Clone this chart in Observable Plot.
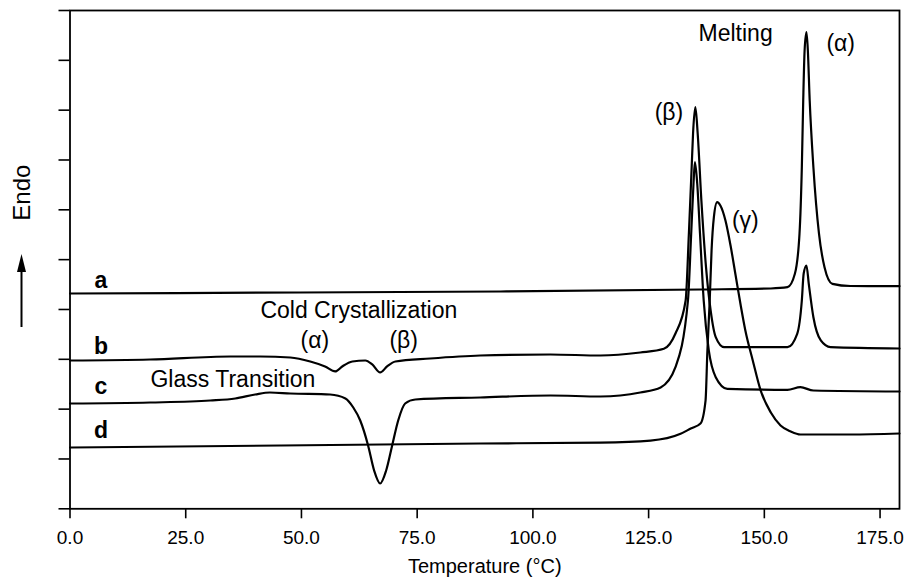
<!DOCTYPE html>
<html><head><meta charset="utf-8">
<script src="https://cdn.jsdelivr.net/npm/d3@7"></script>
<script src="https://cdn.jsdelivr.net/npm/@observablehq/plot@0.6"></script>
<style>body{margin:0;background:#fff} svg{display:block}</style>
</head><body><div id="chart"></div>
<script>
// Curve a
const aT = [0, 49.7, 93.0, 136.2, 151.4, 155.0, 156.6, 157.6, 158.1, 158.4, 158.7, 159.1, 159.4, 159.8, 160.6, 161.8, 163.0, 164.7, 168.6, 179.2];
const aV = [4.321, 4.341, 4.361, 4.401, 4.421, 4.447, 4.716, 5.525, 6.855, 8.194, 9.197, 9.565, 9.197, 8.194, 6.855, 5.525, 4.849, 4.515, 4.471, 4.467];
// Curve b
const bT = [0, 17.3, 34.6, 41.1, 47.6, 51.9, 55.1, 57.3, 58.8, 61.0, 63.8, 65.3, 67.0, 68.5, 70.3, 77.8, 88.6, 103.8, 114.6, 123.2, 128.3, 130.8, 133.0, 133.7, 134.3, 134.6, 135.1, 135.6, 136.4, 137.4, 138.4, 139.5, 141.3, 155.0, 157.1, 158.1, 158.5, 159.1, 159.6, 160.6, 162.2, 164.3, 179.2];
const bV = [2.976, 2.996, 3.056, 3.056, 3.036, 2.956, 2.856, 2.756, 2.856, 2.956, 2.976, 2.896, 2.736, 2.856, 2.956, 3.016, 3.076, 3.097, 3.076, 3.137, 3.211, 3.518, 4.180, 5.525, 6.849, 7.532, 8.060, 7.532, 6.187, 4.849, 3.980, 3.444, 3.243, 3.243, 3.512, 4.180, 4.722, 4.883, 4.515, 3.845, 3.378, 3.243, 3.217];
// Curve c
const cT = [0, 17.3, 30.3, 35.7, 40.0, 43.2, 47.6, 56.2, 59.5, 61.2, 62.7, 64.4, 65.7, 67.0, 68.3, 69.6, 70.9, 72.4, 74.6, 88.6, 103.8, 114.6, 123.2, 127.6, 130.8, 133.5, 134.2, 134.7, 135.0, 135.5, 136.1, 136.9, 138.0, 139.5, 142.0, 155.0, 157.8, 160.6, 179.2];
const cV = [2.113, 2.133, 2.173, 2.214, 2.294, 2.334, 2.314, 2.294, 2.214, 2.033, 1.772, 1.271, 0.769, 0.508, 0.769, 1.271, 1.772, 2.113, 2.194, 2.234, 2.274, 2.254, 2.334, 2.435, 2.842, 4.180, 5.525, 6.528, 6.956, 6.528, 5.525, 4.180, 3.178, 2.641, 2.408, 2.388, 2.440, 2.374, 2.354];
// Curve d
const dT = [0, 45.4, 88.6, 114.6, 125.4, 131.9, 134.1, 136.2, 137.3, 137.7, 138.2, 138.6, 139.1, 139.8, 140.5, 141.6, 142.7, 143.8, 144.9, 145.9, 147.5, 149.2, 151.4, 153.5, 155.7, 157.8, 168.6, 179.2];
const dV = [1.230, 1.270, 1.310, 1.330, 1.370, 1.505, 1.611, 1.712, 2.173, 3.177, 4.180, 5.184, 5.852, 6.153, 6.087, 5.786, 5.284, 4.682, 4.080, 3.579, 2.977, 2.375, 1.932, 1.672, 1.551, 1.491, 1.491, 1.511];

const xTicks = [0, 25, 50, 75, 100, 125, 150, 175];
const yTicks = [0, 1, 2, 3, 4, 5, 6, 7, 8, 9, 10];

const curveNames = ["a", "b", "c", "d"];
const labelT = [6.7, 6.7, 6.7, 6.7];
const labelV = [4.58, 3.26, 2.46, 1.56];

const annoText = ["Cold Crystallization", "(α)", "(β)", "Glass Transition", "Melting", "(α)", "(β)", "(γ)"];
const annoT = [62.4, 52.9, 72.1, 35.2, 143.8, 166.5, 129.4, 145.9];
const annoV = [3.98, 3.38, 3.38, 2.60, 9.53, 9.33, 7.96, 5.79];

const series = [[aT, aV], [bT, bV], [cT, cV], [dT, dV]];
const rows = [];
series.forEach(([T, V], i) => T.forEach((t, j) => rows.push({T: t, v: V[j], s: curveNames[i]})));
const labels = curveNames.map((n, i) => ({n, T: labelT[i], v: labelV[i]}));
const annos = annoText.map((t, i) => ({t, T: annoT[i], v: annoV[i]}));

const font = "'Liberation Sans', Arial, Helvetica, sans-serif";

const plot = Plot.plot({
  width: 904,
  height: 585,
  marginLeft: 69.5,
  marginRight: 5,
  marginTop: 10,
  marginBottom: 76.7,
  style: {fontFamily: font, color: "black", background: "white"},
  x: {domain: [0, 179.2]},
  y: {domain: [0, 10]},
  marks: [
    Plot.axisX({ticks: xTicks, tickFormat: d => d.toFixed(1), tickSize: 10, tickPadding: 12, fontSize: 19, strokeWidth: 1.6, label: null}),
    Plot.axisY({ticks: yTicks, tickFormat: () => "", tickSize: 11, strokeWidth: 1.6, label: null}),
    Plot.frame({stroke: "black", strokeWidth: 1.8}),
    Plot.line(rows, {x: "T", y: "v", z: "s", curve: "monotone-x", stroke: "black", strokeWidth: 2.2, strokeLinejoin: "round"}),
    Plot.text(labels, {x: "T", y: "v", text: "n", fontSize: 23, fontWeight: "bold", fill: "black"}),
    Plot.text(annos, {x: "T", y: "v", text: "t", fontSize: 23, fill: "black"}),
    Plot.text(["Temperature (°C)"], {frameAnchor: "bottom", dy: 64, fontSize: 20, fill: "black"}),
    Plot.text(["Endo"], {frameAnchor: "left", dx: -48, dy: -39, rotate: -90, fontSize: 24, fill: "black"})
  ]
});

const svg = d3.select(plot);
svg.append("line").attr("x1", 21.5).attr("y1", 327).attr("x2", 21.5).attr("y2", 265)
  .attr("stroke", "black").attr("stroke-width", 2);
svg.append("path").attr("d", "M21.5,254 L17,272 L26,272 Z").attr("fill", "black");

document.getElementById("chart").appendChild(plot);
</script></body></html>
